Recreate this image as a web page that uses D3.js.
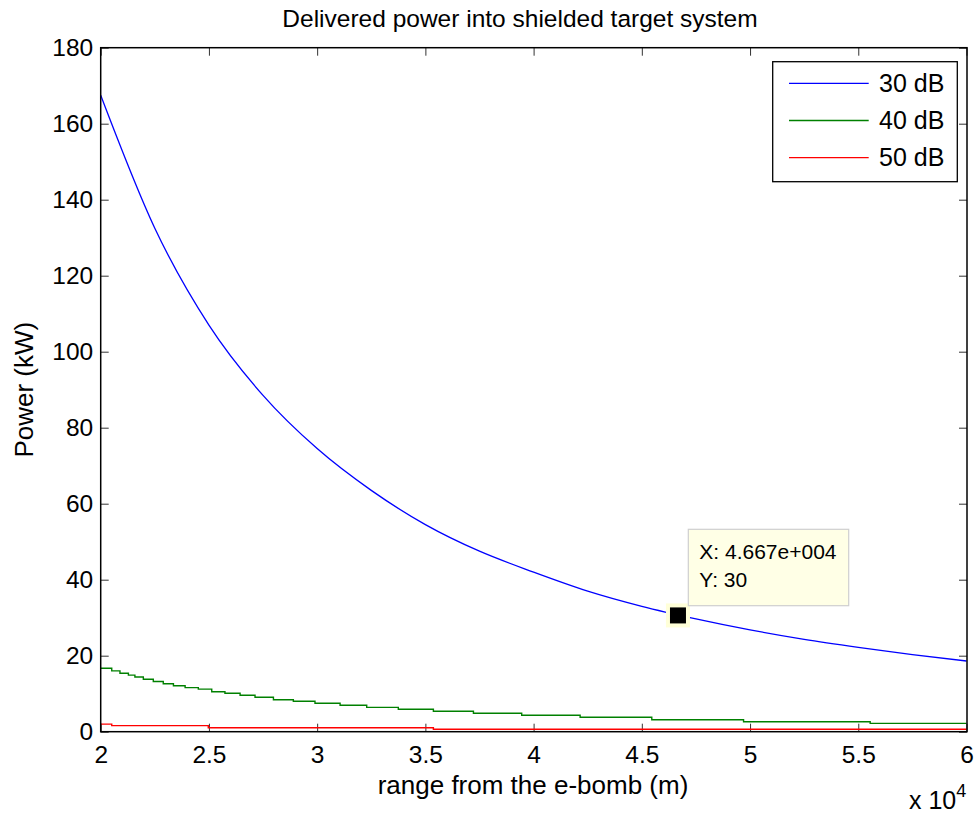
<!DOCTYPE html>
<html><head><meta charset="utf-8">
<script src="https://cdn.jsdelivr.net/npm/d3@7"></script>
<style>body{margin:0;background:#fff}svg{display:block}</style>
</head><body><svg id="c" width="979" height="814"></svg>
<script>
// Data (range in units of 1e4 m, power in kW)
const rangeX  = [2, 2.25, 2.5, 2.75, 3, 3.25, 3.5, 3.75, 4, 4.25, 4.5, 4.75, 5, 5.25, 5.5, 5.75, 6];
const power30 = [167.5, 132.5, 107, 88.5, 74.5, 63.5, 54.5, 47.5, 42, 37, 33, 29.7, 26.8, 24.3, 22.2, 20.3, 18.6];
// 40 dB and 50 dB curves are drawn as the visible staircases in the picture
const range40 = [2, 2.051, 2.089, 2.128, 2.158, 2.197, 2.243, 2.289, 2.336, 2.39, 2.451, 2.513, 2.574, 2.644, 2.713, 2.798, 2.89, 2.99, 3.106, 3.229, 3.375, 3.537, 3.722, 3.945, 4.215, 4.546, 4.97, 5.555, 6];
const power40 = [16.7, 16.0, 15.4, 14.9, 14.4, 13.8, 13.2, 12.6, 12.1, 11.6, 11.2, 10.5, 10.1, 9.6, 9.05, 8.4, 8.0, 7.47, 6.95, 6.4, 5.9, 5.37, 4.84, 4.31, 3.79, 3.16, 2.63, 2.2, 2.2];
const range50 = [2, 2.051, 2.497, 3.537, 6];
const power50 = [2.0, 1.6, 1.05, 0.63, 0.63];
const seriesNames  = ["30 dB", "40 dB", "50 dB"];
const seriesColors = ["#0000ff", "#008000", "#ff0000"];
const xTicks = [2, 2.5, 3, 3.5, 4, 4.5, 5, 5.5, 6];
const yTicks = [0, 20, 40, 60, 80, 100, 120, 140, 160, 180];
const tipPoint  = [4.667, 30.6];
const tipLabels = ["X: 4.667e+004", "Y: 30"];
const titleText = "Delivered power into shielded target system";
const xLabelText = "range from the e-bomb (m)";
const yLabelText = "Power (kW)";

const FONT = "'Liberation Sans', Arial, Helvetica, sans-serif";
const svg = d3.select("#c");
const L = 100.7, R = 967, T = 47.7, B = 731.7;
const x = d3.scaleLinear().domain([2, 6]).range([L, 966.5]);
const y = d3.scaleLinear().domain([0, 180]).range([B, T]);

svg.append("rect").attr("width", 979).attr("height", 814).attr("fill", "#fff");

// axes (ticks inside, MATLAB style)
const gx = svg.append("g").attr("transform", `translate(0,${B})`)
  .call(d3.axisBottom(x).tickValues(xTicks).tickFormat(d3.format("")).tickSizeInner(-8).tickSizeOuter(0).tickPadding(14));
const gxt = svg.append("g").attr("transform", `translate(0,${T})`)
  .call(d3.axisTop(x).tickValues(xTicks).tickFormat("").tickSizeInner(-8).tickSizeOuter(0));
const gy = svg.append("g").attr("transform", `translate(${L},0)`)
  .call(d3.axisLeft(y).tickValues(yTicks).tickFormat(d3.format("")).tickSizeInner(-8).tickSizeOuter(0).tickPadding(7.5));
const gyr = svg.append("g").attr("transform", `translate(${R},0)`)
  .call(d3.axisRight(y).tickValues(yTicks).tickFormat("").tickSizeInner(-8).tickSizeOuter(0));
[gx, gxt, gy, gyr].forEach(g => {
  g.select(".domain").remove();
  g.selectAll(".tick line").attr("stroke", "#333").attr("stroke-width", 1);
  g.selectAll("text").attr("font-family", FONT).attr("font-size", 24.5).attr("fill", "#000");
});

// series
const smooth = d3.line().x((d, i) => x(rangeX[i])).y(d => y(d)).curve(d3.curveMonotoneX);
svg.append("path").attr("d", smooth(power30)).attr("fill", "none")
  .attr("stroke", seriesColors[0]).attr("stroke-width", 1.3);
const step40 = d3.line().x((d, i) => x(range40[i])).y(d => y(d)).curve(d3.curveStepAfter);
svg.append("path").attr("d", step40(power40)).attr("fill", "none")
  .attr("stroke", seriesColors[1]).attr("stroke-width", 1.4);
const step50 = d3.line().x((d, i) => x(range50[i])).y(d => y(d)).curve(d3.curveStepAfter);
svg.append("path").attr("d", step50(power50)).attr("fill", "none")
  .attr("stroke", seriesColors[2]).attr("stroke-width", 1.4);

// plot box
svg.append("rect").attr("x", L).attr("y", T).attr("width", R - L).attr("height", B - T)
  .attr("fill", "none").attr("stroke", "#000").attr("stroke-width", 1.5);

// title and labels
svg.append("text").attr("x", 520).attr("y", 27).attr("text-anchor", "middle")
  .attr("font-family", FONT).attr("font-size", 24.5).text(titleText);
svg.append("text").attr("x", 533).attr("y", 794).attr("text-anchor", "middle")
  .attr("font-family", FONT).attr("font-size", 26).text(xLabelText);
svg.append("text").attr("transform", `translate(33,${(T + B) / 2}) rotate(-90)`).attr("text-anchor", "middle")
  .attr("font-family", FONT).attr("font-size", 26).text(yLabelText);
const ex = svg.append("text").attr("x", 909).attr("y", 809).attr("font-family", FONT).attr("font-size", 25);
ex.append("tspan").text("x 10");
ex.append("tspan").attr("dy", -12).attr("font-size", 18).text("4");

// legend
const lg = svg.append("g");
lg.append("rect").attr("x", 772.7).attr("y", 61.7).attr("width", 184.6).attr("height", 120)
  .attr("fill", "#fff").attr("stroke", "#000").attr("stroke-width", 1.3);
seriesNames.forEach((name, k) => {
  const cy = 83.3 + k * 37.2;
  lg.append("line").attr("x1", 789).attr("x2", 868.7).attr("y1", cy).attr("y2", cy)
    .attr("stroke", seriesColors[k]).attr("stroke-width", 1.3);
  lg.append("text").attr("x", 879).attr("y", cy).attr("dy", "0.35em")
    .attr("font-family", FONT).attr("font-size", 25).text(name);
});

// data tip
const tx = x(tipPoint[0]), ty = y(tipPoint[1]);
svg.append("rect").attr("x", tx - 12).attr("y", ty - 12).attr("width", 24).attr("height", 24).attr("fill", "#ffffd8");
svg.append("rect").attr("x", tx - 8).attr("y", ty - 8).attr("width", 16).attr("height", 16).attr("fill", "#000");
svg.append("rect").attr("x", 688.3).attr("y", 529.3).attr("width", 160.4).attr("height", 76.4)
  .attr("fill", "#ffffe6").attr("stroke", "#cfcfcf").attr("stroke-width", 1.2);
tipLabels.forEach((t, i) => {
  svg.append("text").attr("x", 699.3).attr("y", 559.3 + i * 27.4)
    .attr("font-family", FONT).attr("font-size", 21).text(t);
});
</script>
</body></html>
